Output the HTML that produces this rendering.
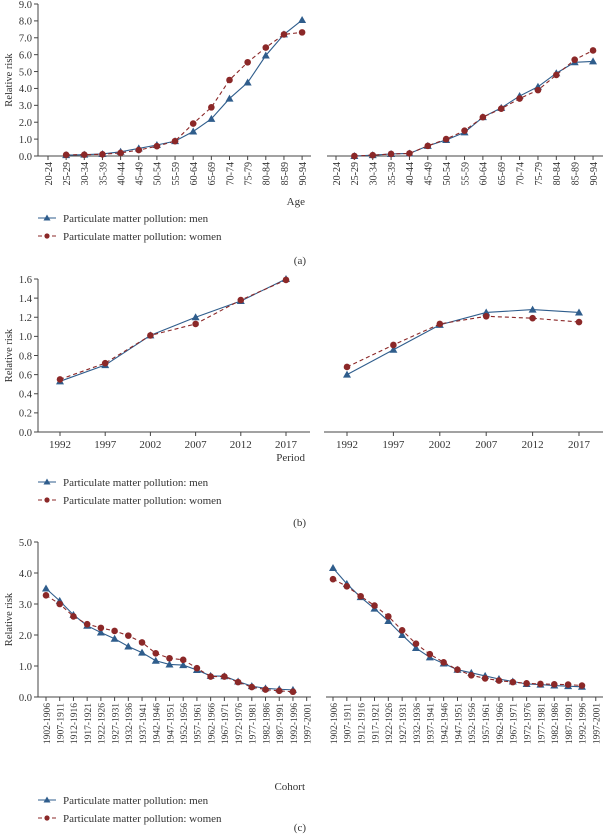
<!DOCTYPE html>
<html><head><meta charset="utf-8"><style>
body{margin:0;background:#fff;width:603px;height:834px;overflow:hidden;font-family:"Liberation Serif",serif;}
svg text{font-family:"Liberation Serif",serif;fill:#333;}
</style></head><body>
<svg id="s" width="603" height="834" xmlns="http://www.w3.org/2000/svg"></svg>
<script>
const ageCats=["20-24","25-29","30-34","35-39","40-44","45-49","50-54","55-59","60-64","65-69","70-74","75-79","80-84","85-89","90-94"];
const ageMenL=[null,0.05,0.08,0.12,0.25,0.45,0.65,0.88,1.45,2.2,3.4,4.35,5.95,7.2,8.05];
const ageWomenL=[null,0.07,0.08,0.1,0.18,0.35,0.58,0.88,1.92,2.88,4.5,5.55,6.42,7.2,7.32];
const ageMenR=[null,0.0,0.05,0.12,0.15,0.6,0.95,1.4,2.3,2.85,3.55,4.1,4.9,5.55,5.6];
const ageWomenR=[null,0.0,0.05,0.12,0.15,0.6,1.0,1.5,2.3,2.8,3.4,3.9,4.8,5.7,6.25];
const ageTicks=["0.0","1.0","2.0","3.0","4.0","5.0","6.0","7.0","8.0","9.0"];
const perCats=["1992","1997","2002","2007","2012","2017"];
const perMenL=[0.53,0.70,1.01,1.20,1.37,1.60];
const perWomenL=[0.55,0.72,1.01,1.13,1.38,1.59];
const perMenR=[0.60,0.86,1.12,1.25,1.28,1.25];
const perWomenR=[0.68,0.91,1.13,1.21,1.19,1.15];
const perTicks=["0.0","0.2","0.4","0.6","0.8","1.0","1.2","1.4","1.6"];
const cohCats=["1902-1906","1907-1911","1912-1916","1917-1921","1922-1926","1927-1931","1932-1936","1937-1941","1942-1946","1947-1951","1952-1956","1957-1961","1962-1966","1967-1971","1972-1976","1977-1981","1982-1986","1987-1991","1992-1996","1997-2001"];
const cohMenL=[3.5,3.1,2.65,2.3,2.08,1.88,1.63,1.43,1.17,1.05,1.03,0.87,0.68,0.67,0.5,0.35,0.28,0.25,0.23,null];
const cohWomenL=[3.28,3.0,2.6,2.35,2.23,2.13,1.98,1.76,1.41,1.25,1.2,0.93,0.66,0.66,0.48,0.32,0.24,0.2,0.17,null];
const cohMenR=[4.16,3.65,3.22,2.85,2.45,2.0,1.58,1.28,1.08,0.88,0.78,0.68,0.58,0.5,0.42,0.4,0.37,0.35,0.33,null];
const cohWomenR=[3.8,3.57,3.25,2.95,2.6,2.15,1.72,1.38,1.12,0.88,0.7,0.6,0.53,0.48,0.44,0.42,0.41,0.4,0.37,null];
const cohTicks=["0.0","1.0","2.0","3.0","4.0","5.0"];

const NS="http://www.w3.org/2000/svg";const S=document.getElementById('s');
const BLUE="#2f5d8c",RED="#8b2828";
function mk(t,a,p){const e=document.createElementNS(NS,t);for(const k in a)e.setAttribute(k,a[k]);(p||S).appendChild(e);return e;}
function txt(x,y,s,size,anchor,rot){const e=mk('text',{x:x,y:y,'font-size':size,'text-anchor':anchor||'start'});if(rot)e.setAttribute('transform',`rotate(${rot} ${x} ${y})`);e.textContent=s;return e;}

function panel(o){
  const g=mk('g',{});
  
  
  const X=i=>o.x0+i*o.dx, Y=v=>o.yb-(v/o.ymax)*o.h;
  const ax=mk('line',{x1:o.ax1,y1:o.yb,x2:o.ax2,y2:o.yb,stroke:'#444','stroke-width':1},g);
  
  o.cats.forEach((c,i)=>{mk('line',{x1:X(i),y1:o.yb,x2:X(i),y2:o.yb+4,stroke:'#444'},g);
    let t;
    if(o.rot){t=txt(X(i)+3.8,o.yb+6,c,o.fs,'end',-90);}
    else t=txt(X(i),o.yb+16,c,11,'middle');
    
    g.appendChild(t);});
  if(o.ticks){
    const ya=mk('line',{x1:o.ax1,y1:o.yb,x2:o.ax1,y2:Y(o.ymax),stroke:'#444'},g);
    
    o.ticks.forEach(t=>{const v=parseFloat(t);mk('line',{x1:o.ax1-4,y1:Y(v),x2:o.ax1,y2:Y(v),stroke:'#444'},g);
      const e=txt(o.ax1-6,Y(v)+3.8,t,10.5,'end');g.appendChild(e);});
    const yl=txt(12,(o.yb+Y(o.ymax))/2,'Relative risk',10.5,'middle',-90);
    g.appendChild(yl);
  }
  [[o.men,BLUE,'',0],[o.women,RED,'4,3',1]].forEach(([d,col,dash,w])=>{
    let pts=[];d.forEach((v,i)=>{if(v!=null)pts.push([X(i),Y(v)]);});
    const pl=mk('polyline',{points:pts.map(p=>p.join(',')).join(' '),fill:'none',stroke:col,'stroke-width':1.1,'stroke-dasharray':dash},g);
    
    pts.forEach(p=>{let m;
      if(w)m=mk('circle',{cx:p[0],cy:p[1],r:3.3,fill:col},g);
      else m=mk('polygon',{points:`${p[0]},${p[1]-4} ${p[0]-4},${p[1]+3} ${p[0]+4},${p[1]+3}`,fill:col},g);
      });
  });
}
function legend(y,xl,xlab,cap,capy){
  const a=txt(xl.x,xl.y,xlab,11,'end');
  [[BLUE,'','Particulate matter pollution: men',0],[RED,'4,3','Particulate matter pollution: women',1]].forEach(([c,d,t,w],k)=>{
    const yy=y+k*18;
    const g=mk('g',{});
    mk('line',{x1:38,y1:yy,x2:56,y2:yy,stroke:c,'stroke-dasharray':d},g);
    if(w)mk('circle',{cx:47,cy:yy,r:2.6,fill:c},g);else mk('polygon',{points:`47,${yy-3.5} 43.5,${yy+2.5} 50.5,${yy+2.5}`,fill:c},g);
    const e=txt(63,yy+4,t,11);g.appendChild(e);});
  const c=txt(306,capy,cap,11,'end');
}
panel({name:'age-chart-left',cats:ageCats,men:ageMenL,women:ageWomenL,x0:48,dx:18.15,yb:156,h:152,ymax:9,ax1:38,ax2:311,rot:1,fs:10,ticks:ageTicks});
panel({name:'age-chart-right',cats:ageCats,men:ageMenR,women:ageWomenR,x0:336,dx:18.36,yb:156,h:152,ymax:9,ax1:327,ax2:603,rot:1,fs:10});
legend(218,{x:305,y:205},'Age','(a)',264);
panel({name:'period-chart-left',cats:perCats,men:perMenL,women:perWomenL,x0:60,dx:45.2,yb:432,h:153,ymax:1.6,ax1:38,ax2:310,ticks:perTicks});
panel({name:'period-chart-right',cats:perCats,men:perMenR,women:perWomenR,x0:347,dx:46.4,yb:432,h:153,ymax:1.6,ax1:324,ax2:603});
legend(482,{x:305,y:461},'Period','(b)',526);
panel({name:'cohort-chart-left',cats:cohCats,men:cohMenL,women:cohWomenL,x0:46,dx:13.72,yb:697,h:155,ymax:5,ax1:38,ax2:311,rot:1,fs:9.5,ticks:cohTicks});
panel({name:'cohort-chart-right',cats:cohCats,men:cohMenR,women:cohWomenR,x0:333,dx:13.83,yb:697,h:155,ymax:5,ax1:326,ax2:603,rot:1,fs:9.5});
legend(800,{x:305,y:790},'Cohort','(c)',831);
</script>
</body></html>
